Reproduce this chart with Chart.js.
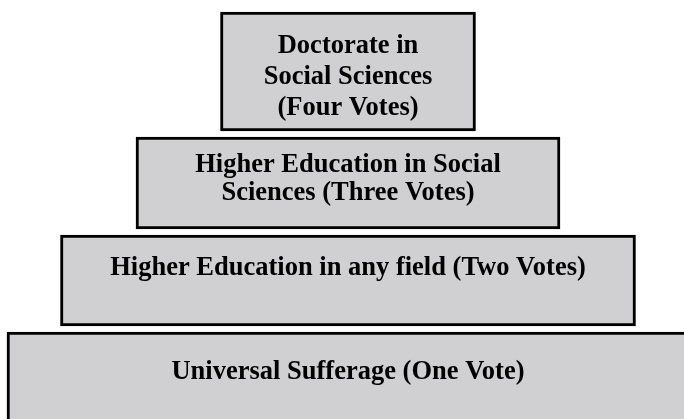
<!DOCTYPE html>
<html>
<head>
<meta charset="utf-8">
<script src="https://cdn.jsdelivr.net/npm/chart.js@4.4.0/dist/chart.umd.min.js"></script>
<style>
  html, body { margin: 0; padding: 0; background: #fff; }
  #wrap { width: 684px; height: 419px; position: relative; }
</style>
</head>
<body>
<div id="wrap"><canvas id="pyramid"></canvas></div>
<script>
// pyramid levels, top to bottom
var levels = ['Doctorate in Social Sciences', 'Higher Education in Social Sciences', 'Higher Education in any field', 'Universal Sufferage'];
var votes = [4, 3, 2, 1];
var labelLines = [
  ['Doctorate in', 'Social Sciences', '(Four Votes)'],
  ['Higher Education in Social', 'Sciences (Three Votes)'],
  ['Higher Education in any field (Two Votes)'],
  ['Universal Sufferage (One Vote)']
];
// box width and height of each level
var levelWidth = [255, 424, 575, 682];
var levelHeight = [119, 92, 91, 120];

var gap = 6, topMargin = 12;
// where the first text line sits below the box top, and line spacing
var textTop = [34, 28, 33, 40];
var lineStep = [31, 28, 0, 0];

// one dataset per level so each gets its own thickness
var datasets = [];
var y = topMargin;
for (var i = 0; i < levels.length; i++) {
  datasets.push({
    label: levels[i],
    data: [{ x: [-levelWidth[i] / 2, levelWidth[i] / 2], y: y + levelHeight[i] / 2 }],
    barThickness: levelHeight[i],
    backgroundColor: '#d0cfd1',
    borderColor: '#000',
    borderWidth: 3,
    borderSkipped: false
  });
  y += levelHeight[i] + gap;
}

var boxText = {
  id: 'boxText',
  afterDatasetsDraw: function(chart) {
    var ctx = chart.ctx;
    ctx.save();
    ctx.font = 'bold 26.5px "Liberation Serif"';
    ctx.fillStyle = '#000';
    ctx.textAlign = 'center';
    ctx.textBaseline = 'middle';
    chart.data.datasets.forEach(function(ds, i) {
      var bar = chart.getDatasetMeta(i).data[0];
      var cx = (bar.x + bar.base) / 2;
      var top = bar.y - bar.height / 2;
      labelLines[i].forEach(function(line, j) {
        ctx.fillText(line, cx, top + textTop[i] + j * lineStep[i]);
      });
    });
    ctx.restore();
  }
};

var ctx = document.getElementById('pyramid').getContext('2d');
var chart = new Chart(ctx, {
  type: 'bar',
  data: { datasets: datasets },
  options: {
    indexAxis: 'y',
    responsive: true,
    maintainAspectRatio: false,
    animation: false,
    grouped: false,
    layout: { padding: 0 },
    plugins: { legend: { display: false }, tooltip: { enabled: false } },
    scales: {
      x: { type: 'linear', min: -348, max: 336, display: false },
      y: { type: 'linear', min: 0, max: 419, reverse: true, offset: false, display: false }
    }
  },
  plugins: [boxText]
});
</script>
</body>
</html>
